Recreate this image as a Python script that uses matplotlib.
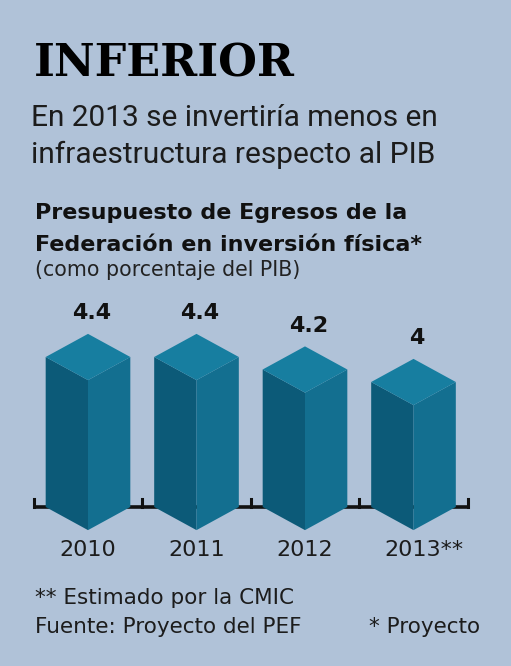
import matplotlib
matplotlib.use("Agg")
import matplotlib.pyplot as plt
from matplotlib.patches import Polygon

# data
years = ["2010", "2011", "2012", "2013**"]
values = [4.4, 4.4, 4.2, 4.0]

title = "INFERIOR"
subtitle = ["En 2013 se invertiría menos en", "infraestructura respecto al PIB"]
chart_title = ["Presupuesto de Egresos de la", "Federación en inversión física*"]
chart_unit = "(como porcentaje del PIB)"
notes_left = ["** Estimado por la CMIC", "Fuente: Proyecto del PEF"]
note_right = "* Proyecto"

BG = "#b0c2d8"
TOP = "#177ea0"
LEFT = "#0c5a78"
RIGHT = "#136f90"
NARROW = ["Roboto", "DejaVu Sans"]
PLAIN = ["DejaVu Sans"]

W, H = 511, 666
fig = plt.figure(figsize=(W / 100, H / 100), dpi=100, facecolor=BG)


def fy(py):
    return 1 - py / H


# header texts
fig.text(34 / W, fy(64), title, fontsize=32, fontweight="bold",
         family="DejaVu Serif", color="black", va="center")
for i, line in enumerate(subtitle):
    fig.text(31 / W, fy(118 + i * 37), line, fontsize=21.5, family=NARROW,
             color="#1c1c1c", va="center")
for i, line in enumerate(chart_title):
    fig.text(35 / W, fy(213 + i * 32), line, fontsize=16, fontweight="bold",
             family=PLAIN, color="#111111", va="center")
fig.text(35 / W, fy(270), chart_unit, fontsize=14.8, family=PLAIN,
         color="#222222", va="center")

# footer
for i, line in enumerate(notes_left):
    fig.text(35 / W, fy(598 + i * 29), line, fontsize=15.5, family=PLAIN,
             color="#1c1c1c", va="center")
fig.text(480 / W, fy(627), note_right, fontsize=15.5, family=PLAIN,
         color="#1c1c1c", va="center", ha="right")

# chart axes: 108 px per category, 62.5 px per unit
x0, x1 = -0.6, 3.6
y0, y1 = 1.3, 5.0
left_px = 88 + x0 * 108.5
right_px = 88 + x1 * 108.5
bot_px = 507 - 62.5 * (y0 - 2)
top_px = 507 - 62.5 * (y1 - 2)
ax = fig.add_axes([left_px / W, 1 - bot_px / H,
                   (right_px - left_px) / W, (bot_px - top_px) / H])
ax.set_xlim(x0, x1)
ax.set_ylim(y0, y1)
ax.axis("off")

base = 2.0
hw = 0.39      # half width of a prism
depth = 0.37   # vertical drop of the front edge

# baseline with small ticks between bars
n = len(years)
ax.plot([-0.5, n - 0.5], [base, base], color="#111111", lw=2.6,
        solid_capstyle="butt", zorder=1)
for k in range(n + 1):
    ax.plot([k - 0.5, k - 0.5], [base, base + 0.13], color="#111111",
            lw=2.2, zorder=1)

for i, (yr, v) in enumerate(zip(years, values)):
    xl, xc, xr = i - hw, i, i + hw
    left_face = [(xl, base), (xc, base - depth), (xc, v - depth), (xl, v)]
    right_face = [(xc, base - depth), (xr, base), (xr, v), (xc, v - depth)]
    top_face = [(xl, v), (xc, v + depth), (xr, v), (xc, v - depth)]
    ax.add_patch(Polygon(left_face, closed=True, facecolor=LEFT, lw=0, zorder=2))
    ax.add_patch(Polygon(right_face, closed=True, facecolor=RIGHT, lw=0, zorder=2))
    ax.add_patch(Polygon(top_face, closed=True, facecolor=TOP, lw=0, zorder=2))
    label = f"{v:g}"
    ax.text(xc + 0.03, v + depth + 0.33, label, ha="center", va="center",
            fontsize=16, fontweight="bold", family=PLAIN, color="#111111")
    ax.text(xc + (0.1 if "*" in yr else 0.0), base - 0.69, yr, ha="center",
            va="center", fontsize=16, family=PLAIN, color="#1c1c1c")

fig.savefig("out.png", dpi=100, facecolor=BG)
